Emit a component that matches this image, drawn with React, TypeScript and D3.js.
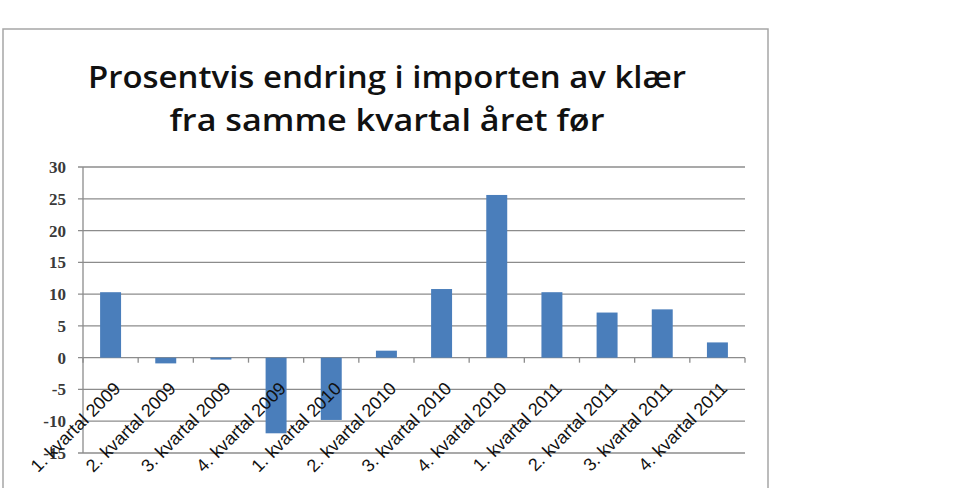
import React, { useRef, useEffect } from 'react';
import * as d3 from 'd3';

// Quarter labels and percent change from the same quarter the year before
const categories = [
  '1. kvartal 2009', '2. kvartal 2009', '3. kvartal 2009', '4. kvartal 2009',
  '1. kvartal 2010', '2. kvartal 2010', '3. kvartal 2010', '4. kvartal 2010',
  '1. kvartal 2011', '2. kvartal 2011', '3. kvartal 2011', '4. kvartal 2011'
];
const values = [10.3, -0.9, -0.3, -11.9, -9.8, 1.1, 10.8, 25.6, 10.3, 7.1, 7.6, 2.4];
const yTicks = [30, 25, 20, 15, 10, 5, 0, -5, -10, -15];
const titleLines = ['Prosentvis endring i importen av klær', 'fra samme kvartal året før'];

const App: React.FC = () => {
  const ref = useRef<SVGSVGElement>(null);

  useEffect(() => {
    if (!ref.current) return;
    const svg = d3.select(ref.current);
    svg.selectAll('*').remove();

    const left = 83, right = 745, top = 167, bottom = 453;

    // outer chart frame
    svg.append('rect')
      .attr('x', 3).attr('y', 29)
      .attr('width', 765).attr('height', 480)
      .attr('fill', '#fff')
      .attr('stroke', '#a6a6a6')
      .attr('stroke-width', 1.5);

    // title
    const tl = [598, 435];
    svg.selectAll('text.title')
      .data(titleLines)
      .enter()
      .append('text')
      .attr('class', 'title')
      .attr('x', 387)
      .attr('y', (d, i) => 88 + i * 43)
      .attr('text-anchor', 'middle')
      .attr('textLength', (d, i) => tl[i])
      .attr('lengthAdjust', 'spacingAndGlyphs')
      .style('font-family', 'Open Sans, sans-serif')
      .style('font-weight', 600)
      .style('font-size', '31px')
      .attr('fill', '#111')
      .text(d => d);

    const x = d3.scaleBand()
      .domain(categories)
      .range([left, right])
      .paddingInner(0.62)
      .paddingOuter(0.31);

    const y = d3.scaleLinear()
      .domain([-15, 30])
      .range([bottom, top]);

    // gridlines
    svg.append('g')
      .selectAll('line')
      .data(yTicks)
      .enter()
      .append('line')
      .attr('x1', left - 5)
      .attr('x2', right)
      .attr('y1', d => y(d))
      .attr('y2', d => y(d))
      .attr('stroke', '#8c8c8c')
      .attr('stroke-width', 1.3);

    // vertical axis
    svg.append('line')
      .attr('x1', left).attr('x2', left)
      .attr('y1', top).attr('y2', bottom)
      .attr('stroke', '#8c8c8c')
      .attr('stroke-width', 1.3);

    // y labels
    svg.append('g')
      .selectAll('text')
      .data(yTicks)
      .enter()
      .append('text')
      .attr('x', 66)
      .attr('y', d => y(d))
      .attr('dy', '0.35em')
      .attr('text-anchor', 'end')
      .style('font-family', 'Liberation Serif, serif')
      .style('font-size', '17px')
      .style('font-weight', 600)
      .attr('fill', '#3a3a3a')
      .text(d => d);

    // bars
    svg.append('g')
      .selectAll('rect')
      .data(values)
      .enter()
      .append('rect')
      .attr('x', (d, i) => x(categories[i]) || 0)
      .attr('y', d => y(Math.max(0, d)))
      .attr('width', x.bandwidth())
      .attr('height', d => Math.abs(y(d) - y(0)))
      .attr('fill', '#4a7ebb');

    // category ticks on the zero line
    const step = x.step();
    svg.append('g')
      .selectAll('line')
      .data(d3.range(categories.length + 1))
      .enter()
      .append('line')
      .attr('x1', i => left + i * step)
      .attr('x2', i => left + i * step)
      .attr('y1', y(0))
      .attr('y2', y(0) + 5)
      .attr('stroke', '#8c8c8c')
      .attr('stroke-width', 1.3);

    // rotated category labels
    svg.append('g')
      .selectAll('text')
      .data(categories)
      .enter()
      .append('text')
      .attr('transform', d => `translate(${(x(d) || 0) + x.bandwidth() / 2 + 11},${y(0) + 32}) rotate(-45)`)
      .attr('text-anchor', 'end')
      .style('font-family', 'Liberation Sans, sans-serif')
      .style('font-size', '18px')
      .attr('fill', '#111')
      .text(d => d);
  }, []);

  return (
    <div style={{ position: 'absolute', left: 0, top: 0 }}>
      <svg ref={ref} width={960} height={488} style={{ display: 'block', background: '#fff' }} />
    </div>
  );
};

export default App;
